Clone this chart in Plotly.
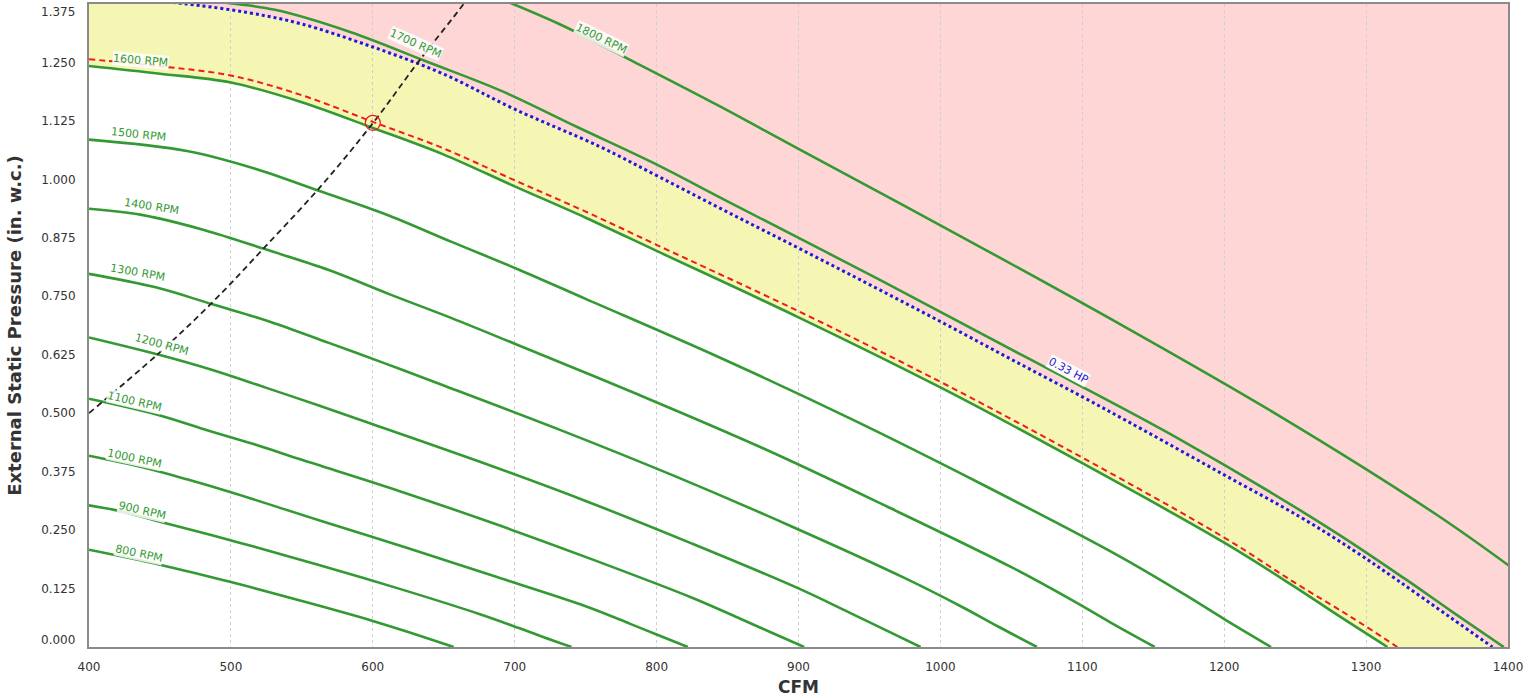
import plotly.graph_objects as go

# ---------------- data ----------------
RPM_800_CFM = [400, 450, 500, 550, 600, 625, 640, 657]
RPM_800_ESP = [0.208, 0.176, 0.1388, 0.0983, 0.0558, 0.032, 0.017, 0.0]

RPM_900_CFM = [400, 422, 450, 506, 562, 619, 675, 703, 720, 740]
RPM_900_ESP = [0.303, 0.2905, 0.268, 0.2231, 0.1756, 0.1243, 0.0706, 0.0405, 0.0215, 0.0]

RPM_1000_CFM = [400, 437, 469, 500, 562, 625, 687, 750, 781, 800, 822]
RPM_1000_ESP = [0.409, 0.3848, 0.3586, 0.3309, 0.271, 0.211, 0.150, 0.0871, 0.050, 0.0266, 0.0]

RPM_1100_CFM = [400, 447, 481, 516, 550, 619, 687, 756, 825, 859, 880, 904]
RPM_1100_ESP = [0.531, 0.4977, 0.4656, 0.4339, 0.4003, 0.3332, 0.2623, 0.1858, 0.1054, 0.0605, 0.0321, 0.0]

RPM_1200_CFM = [400, 450, 487, 525, 562, 600, 675, 750, 825, 900, 937, 960, 986]
RPM_1200_ESP = [0.662, 0.6244, 0.5923, 0.5541, 0.5164, 0.4764, 0.3966, 0.3122, 0.2211, 0.1254, 0.072,
                0.0383, 0.0]

RPM_1300_CFM = [400, 447, 487, 528, 569, 609, 650, 731, 812, 894, 975, 1016, 1040, 1068]
RPM_1300_ESP = [0.798, 0.7691, 0.7328, 0.6952, 0.6503, 0.606, 0.5592, 0.4654, 0.3664, 0.2594, 0.1472,
                0.0845, 0.0449, 0.0]

RPM_1400_CFM = [400, 437, 481, 525, 569, 612, 656, 700, 787, 875, 962, 1050, 1094, 1120, 1151]
RPM_1400_ESP = [0.937, 0.9241, 0.8919, 0.8498, 0.8062, 0.7541, 0.7028, 0.6485, 0.5398, 0.4249, 0.3009,
                0.1707, 0.098, 0.0521, 0.0]

RPM_1500_CFM = [400, 469, 516, 562, 609, 656, 703, 750, 844, 937, 1031, 1125, 1172, 1200, 1233]
RPM_1500_ESP = [1.085, 1.0608, 1.0239, 0.9756, 0.9255, 0.8657, 0.8068, 0.7444, 0.6196, 0.4878, 0.3454,
                0.196, 0.1125, 0.0598, 0.0]

RPM_1600_CFM = [400, 450, 500, 550, 600, 650, 700, 750, 800, 900, 1000, 1100, 1200, 1250, 1280, 1315]
RPM_1600_ESP = [1.2425, 1.226, 1.207, 1.165, 1.110, 1.053, 0.985, 0.918, 0.847, 0.705, 0.555, 0.393,
                0.223, 0.128, 0.068, 0.0]

RPM_1700_CFM = [400, 425, 478, 531, 584, 637, 691, 744, 797, 850, 956, 1062, 1169, 1275, 1328, 1360, 1397]
RPM_1700_ESP = [1.411, 1.4027, 1.384, 1.3626, 1.3152, 1.2531, 1.1887, 1.112, 1.0363, 0.953, 0.787,
                0.617, 0.4437, 0.2517, 0.1445, 0.0768, 0.0]

RPM_1800_CFM = [450, 506, 562, 619, 675, 731, 787, 844, 900, 1012, 1125, 1237, 1350, 1406]
RPM_1800_ESP = [1.5725, 1.5516, 1.5276, 1.4745, 1.4048, 1.3327, 1.2466, 1.157, 1.065, 0.882, 0.693,
                0.4974, 0.2822, 0.162]

HP_033_CFM = [400, 469, 513, 549, 600, 650, 700, 760, 802, 850, 900, 950, 1000, 1050, 1100, 1143,
              1200, 1253, 1291, 1322, 1360, 1389]
HP_033_ESP = [1.395, 1.375, 1.356, 1.333, 1.283, 1.225, 1.15, 1.07, 1.005, 0.93, 0.853, 0.775, 0.696,
              0.615, 0.535, 0.464, 0.368, 0.279, 0.207, 0.143, 0.062, 0.0]

OPER_CFM = [400, 450, 500, 550, 600, 650, 700, 750, 800, 900, 1000, 1100, 1200, 1250, 1290, 1322]
OPER_ESP = [1.257, 1.242, 1.222, 1.18, 1.123, 1.066, 0.998, 0.931, 0.86, 0.718, 0.567, 0.405, 0.234,
            0.137, 0.063, 0.0]

SYSTEM_CFM = [400, 448, 485, 522, 563, 600, 633, 664, 672]
SYSTEM_ESP = [0.50, 0.625, 0.731, 0.849, 0.984, 1.12, 1.255, 1.375, 1.41]

POINT_CFM = [600]
POINT_ESP = [1.121]

RPM_LABELS = ["800 RPM", "900 RPM", "1000 RPM", "1100 RPM", "1200 RPM", "1300 RPM",
              "1400 RPM", "1500 RPM", "1600 RPM", "1700 RPM", "1800 RPM"]
HP_LABEL = "0.33 HP"

X_TICKS = [400, 500, 600, 700, 800, 900, 1000, 1100, 1200, 1300, 1400]
Y_TICKS = [0, 0.125, 0.25, 0.375, 0.5, 0.625, 0.75, 0.875, 1.0, 1.125, 1.25, 1.375]

# label placement (data coords) and angles
LABEL_POS = [(435, 0.201, 12), (437, 0.291, 13), (432, 0.404, 12), (432, 0.526, 13),
             (451, 0.646, 15), (434, 0.800, 10), (444, 0.941, 9), (435, 1.097, 6),
             (436, 1.255, 5), (630, 1.290, 24), (761, 1.302, 26)]
HP_LABEL_POS = (1090, 0.592, 28)

GREEN = "#339933"
BLUE = "#1c1cd0"
RED = "#ee1c1c"
PINK = "#ffd6d6"
YELLOW = "#f5f5b4"
TXT = "#333333"
SMOOTH = 1.0

curves = [
    (RPM_800_CFM, RPM_800_ESP), (RPM_900_CFM, RPM_900_ESP), (RPM_1000_CFM, RPM_1000_ESP),
    (RPM_1100_CFM, RPM_1100_ESP), (RPM_1200_CFM, RPM_1200_ESP), (RPM_1300_CFM, RPM_1300_ESP),
    (RPM_1400_CFM, RPM_1400_ESP), (RPM_1500_CFM, RPM_1500_ESP), (RPM_1600_CFM, RPM_1600_ESP),
    (RPM_1700_CFM, RPM_1700_ESP), (RPM_1800_CFM, RPM_1800_ESP),
]


def path_of(xs, ys, start="M"):
    parts = []
    for i, (x, y) in enumerate(zip(xs, ys)):
        parts.append(("M" if (i == 0 and start == "M") else "L") + f" {x},{y}")
    return " ".join(parts)


fig = go.Figure()

# fill regions (drawn below the grid)
pink_path = path_of(HP_033_CFM, HP_033_ESP) + " L 1420,0 L 1420,1.6 L 400,1.6 Z"
yellow_path = (path_of(RPM_1600_CFM, RPM_1600_ESP) + " " +
               path_of(HP_033_CFM[::-1], HP_033_ESP[::-1], start="L") + " Z")
shapes = [
    dict(type="path", path=pink_path, xref="x", yref="y", fillcolor=PINK,
         line=dict(width=0), layer="below"),
    dict(type="path", path=yellow_path, xref="x", yref="y", fillcolor=YELLOW,
         line=dict(width=0), layer="below"),
]

for (xs, ys), name in zip(curves, RPM_LABELS):
    fig.add_trace(go.Scatter(x=xs, y=ys, mode="lines", name=name,
                             line=dict(color=GREEN, width=2.6, shape="spline", smoothing=SMOOTH),
                             hoverinfo="skip", showlegend=False))

fig.add_trace(go.Scatter(x=OPER_CFM, y=OPER_ESP, mode="lines",
                         line=dict(color=RED, width=2, dash="6px,4px", shape="spline", smoothing=SMOOTH),
                         hoverinfo="skip", showlegend=False))
fig.add_trace(go.Scatter(x=HP_033_CFM, y=HP_033_ESP, mode="lines",
                         line=dict(color=BLUE, width=3, dash="dot", shape="spline", smoothing=SMOOTH),
                         hoverinfo="skip", showlegend=False))
fig.add_trace(go.Scatter(x=SYSTEM_CFM, y=SYSTEM_ESP, mode="lines",
                         line=dict(color="#222222", width=1.8, dash="6px,4px", shape="spline", smoothing=SMOOTH),
                         hoverinfo="skip", showlegend=False))
fig.add_trace(go.Scatter(x=POINT_CFM, y=POINT_ESP, mode="markers",
                         marker=dict(symbol="circle-open", size=15, color=RED, line=dict(width=1.2, color=RED)),
                         hoverinfo="skip", showlegend=False))

annotations = []
for text, (lx, ly, ang) in zip(RPM_LABELS, LABEL_POS):
    annotations.append(dict(x=lx, y=ly, xref="x", yref="y", text=text, showarrow=False,
                            textangle=ang, font=dict(family="DejaVu Sans", size=11, color=GREEN),
                            bgcolor="rgba(255,255,255,0.85)", borderpad=0))
annotations.append(dict(x=HP_LABEL_POS[0], y=HP_LABEL_POS[1], xref="x", yref="y", text=HP_LABEL,
                        showarrow=False, textangle=HP_LABEL_POS[2],
                        font=dict(family="DejaVu Sans", size=11, color=BLUE),
                        bgcolor="rgba(255,255,255,0.9)", borderpad=0))

# end tick labels of the y axis are nudged inside the plot height (as in the reference)
y_ticktext = [f"{v:.3f}" for v in Y_TICKS]
end_labels = [(Y_TICKS[0], y_ticktext[0], 7), (Y_TICKS[-1], y_ticktext[-1], -8)]
y_ticktext[0] = ""
y_ticktext[-1] = ""
for yv, txt, shift in end_labels:
    annotations.append(dict(x=0, y=yv, xref="paper", yref="y", text=txt, showarrow=False,
                            xanchor="right", yanchor="middle", xshift=-12, yshift=shift,
                            font=dict(family="DejaVu Sans", size=12, color=TXT)))

fig.update_layout(
    width=1536, height=698,
    margin=dict(l=89, r=28, t=4, b=51),
    paper_bgcolor="white", plot_bgcolor="white",
    shapes=shapes, annotations=annotations,
    font=dict(family="DejaVu Sans", color=TXT),
    showlegend=False,
)
fig.update_xaxes(
    range=[400, 1400], tickvals=X_TICKS, ticktext=[str(v) for v in X_TICKS],
    showgrid=True, gridcolor="#cfcfcf", griddash="dot", gridwidth=1,
    showline=True, linecolor="#8a8a8a", linewidth=2, mirror=True,
    ticks="outside", ticklen=8, tickcolor="rgba(0,0,0,0)",
    tickfont=dict(size=12, color=TXT), zeroline=False, automargin=False,
    title=dict(text="<b>CFM</b>", font=dict(size=17, color=TXT), standoff=8),
)
fig.update_yaxes(
    range=[0, 1.375], tickvals=Y_TICKS, ticktext=y_ticktext,
    showgrid=False, showline=True, linecolor="#8a8a8a", linewidth=2, mirror=True,
    ticks="outside", ticklen=9, tickcolor="rgba(0,0,0,0)",
    tickfont=dict(size=12, color=TXT), zeroline=False, automargin=False,
    title=dict(text="<b>External Static Pressure (in. w.c.)</b>", font=dict(size=18, color=TXT),
               standoff=15),
)

fig.write_html("out.html", config={"displayModeBar": False},
               post_script="document.body.style.margin='0';document.body.style.overflow='hidden';")
